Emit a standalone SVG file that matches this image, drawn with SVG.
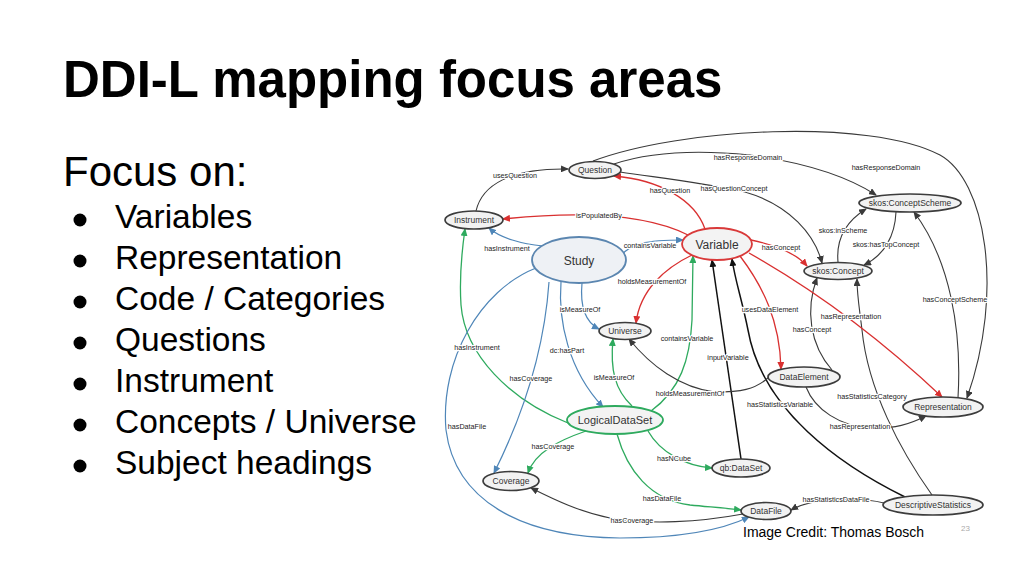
<svg xmlns="http://www.w3.org/2000/svg" width="1024" height="576" viewBox="0 0 1024 576">
<style>
.title{font-family:"Liberation Sans",Arial,sans-serif;font-weight:bold;font-size:51px;fill:#000}
.focus{font-family:"Liberation Sans",Arial,sans-serif;font-size:42px;fill:#000}
.item{font-family:"Liberation Sans",Arial,sans-serif;font-size:33.5px;fill:#000}
.credit{font-family:"Liberation Sans",Arial,sans-serif;font-size:14px;fill:#000}
.pg{font-family:"Liberation Sans",Arial,sans-serif;font-size:8px;fill:#aaa}
.e{fill:none}
.dk{stroke:#3a3a3a;stroke-width:1.1}
.bk{stroke:#111;stroke-width:1.5}
.rd{stroke:#d93030;stroke-width:1.3}
.gr{stroke:#2eaa5e;stroke-width:1.3}
.bl{stroke:#4f86b8;stroke-width:1.2}
.el{font-family:"Liberation Sans",Arial,sans-serif;font-size:7.2px;fill:#222;text-anchor:middle;stroke:#fff;stroke-width:2.4;paint-order:stroke;stroke-linejoin:round}
.n{fill:#f2f2f2;stroke:#3c3c3c;stroke-width:1.7}
.nl{font-family:"Liberation Sans",Arial,sans-serif;font-size:8.5px;fill:#333;text-anchor:middle}
</style>
<defs>
<marker id="a-dk" markerUnits="userSpaceOnUse" markerWidth="8" markerHeight="7" refX="7" refY="3.5" orient="auto"><path d="M0,0 L8,3.5 L0,7 z" fill="#3a3a3a"/></marker>
<marker id="a-bk" markerUnits="userSpaceOnUse" markerWidth="8" markerHeight="7" refX="7" refY="3.5" orient="auto"><path d="M0,0 L8,3.5 L0,7 z" fill="#111"/></marker>
<marker id="a-rd" markerUnits="userSpaceOnUse" markerWidth="8" markerHeight="7" refX="7" refY="3.5" orient="auto"><path d="M0,0 L8,3.5 L0,7 z" fill="#d93030"/></marker>
<marker id="a-gr" markerUnits="userSpaceOnUse" markerWidth="8" markerHeight="7" refX="7" refY="3.5" orient="auto"><path d="M0,0 L8,3.5 L0,7 z" fill="#2eaa5e"/></marker>
<marker id="a-bl" markerUnits="userSpaceOnUse" markerWidth="8" markerHeight="7" refX="7" refY="3.5" orient="auto"><path d="M0,0 L8,3.5 L0,7 z" fill="#4f86b8"/></marker>
</defs>
<rect width="1024" height="576" fill="#fff"/>
<g id="slide-text">
<text class="title" x="63" y="97">DDI-L mapping focus areas</text>
<text class="focus" x="63" y="186">Focus on:</text>
<g fill="#000">
<circle cx="80" cy="220" r="6.5"/><circle cx="80" cy="261" r="6.5"/><circle cx="80" cy="302" r="6.5"/><circle cx="80" cy="343" r="6.5"/><circle cx="80" cy="384" r="6.5"/><circle cx="80" cy="425" r="6.5"/><circle cx="80" cy="466" r="6.5"/>
</g>
<text class="item" x="115" y="228">Variables</text>
<text class="item" x="115" y="269">Representation</text>
<text class="item" x="115" y="310">Code / Categories</text>
<text class="item" x="115" y="351">Questions</text>
<text class="item" x="115" y="392">Instrument</text>
<text class="item" x="115" y="433">Concepts / Universe</text>
<text class="item" x="115" y="474">Subject headings</text>
<text class="credit" x="743" y="537">Image Credit: Thomas Bosch</text>
<text class="pg" x="961" y="531">23</text>
</g>
<g id="connectors">
<path class="e dk" marker-end="url(#a-dk)" d="M476,211 C482,185 510,168 568,169"/>
<path class="e dk" marker-end="url(#a-dk)" d="M593,161 C680,128 870,118 940,155 C985,180 1005,290 967,398"/>
<path class="e dk" marker-end="url(#a-dk)" d="M614,164 C650,152 700,150 750,155 C800,162 845,175 876,195"/>
<path class="e dk" marker-end="url(#a-dk)" d="M620,172 C660,178 700,182 745,192 C790,205 815,235 822,263"/>
<path class="e dk" marker-end="url(#a-dk)" d="M838,262 C836,240 845,222 866,209"/>
<path class="e dk" marker-end="url(#a-dk)" d="M896,212 C895,235 885,255 864,265"/>
<path class="e dk" marker-end="url(#a-dk)" d="M958,398 C962,330 950,260 914,212"/>
<path class="e dk" marker-end="url(#a-dk)" d="M832,370 C810,345 805,310 817,278"/>
<path class="e dk" marker-end="url(#a-dk)" d="M932,495 C900,450 868,390 862,330 C859,305 857,295 857,279"/>
<path class="e dk" marker-end="url(#a-dk)" d="M806,387 C815,410 840,426 870,428 C895,429 910,424 926,416"/>
<path class="e bk" marker-end="url(#a-bk)" d="M905,497 C840,465 762,410 748,330 C742,300 735,280 732,259"/>
<path class="e bk" marker-end="url(#a-bk)" d="M741,459 L712,260"/>
<path class="e rd" marker-end="url(#a-rd)" d="M749,253 Q850,310 942,397"/>
<path class="e rd" marker-end="url(#a-rd)" d="M751,240 C775,245 795,252 807,266"/>
<path class="e rd" marker-end="url(#a-rd)" d="M705,229 C695,200 660,180 614,176"/>
<path class="e rd" marker-end="url(#a-rd)" d="M688,235 C650,216 590,210 503,219"/>
<path class="e rd" marker-end="url(#a-rd)" d="M692,255 C665,268 640,290 636,323"/>
<path class="e rd" marker-end="url(#a-rd)" d="M740,256 C762,285 780,320 781,369"/>
<path class="e gr" marker-end="url(#a-gr)" d="M651,411 C680,390 690,360 692,320 L693,256"/>
<path class="e gr" marker-end="url(#a-gr)" d="M632,406 C615,390 610,370 613,339"/>
<path class="e gr" marker-end="url(#a-gr)" d="M568,423 C510,400 465,355 461,305 C459,275 462,250 465,229"/>
<path class="e gr" marker-end="url(#a-gr)" d="M586,431 C560,440 535,452 528,473"/>
<path class="e gr" marker-end="url(#a-gr)" d="M648,431 C660,452 685,466 712,468"/>
<path class="e gr" marker-end="url(#a-gr)" d="M617,434 C627,470 650,500 690,505 C710,507 725,508 741,510"/>
<path class="e bl" marker-end="url(#a-bl)" d="M543,246 C522,244 500,238 489,228"/>
<path class="e bl" marker-end="url(#a-bl)" d="M622,255 C630,244 645,240 683,240"/>
<path class="e bl" marker-end="url(#a-bl)" d="M582,283 C580,305 585,322 599,329"/>
<path class="e bl" marker-end="url(#a-bl)" d="M561,282 C558,320 568,370 603,407"/>
<path class="e bl" marker-end="url(#a-bl)" d="M549,282 C545,340 528,405 494,473"/>
<path class="e bl" marker-end="url(#a-bl)" d="M536,268 C480,290 440,360 446,430 C455,500 520,537 620,538 C680,538 722,530 749,517"/>
<path class="e dk" marker-end="url(#a-dk)" d="M743,514 C700,522 650,525 610,518 C580,512 555,500 531,488"/>
<path class="e dk" marker-end="url(#a-dk)" d="M884,503 C865,498 815,496 791,510"/>
<path class="e dk" marker-end="url(#a-dk)" d="M769,377 C755,390 740,392 715,392 C680,388 650,365 629,339"/>
<text class="el" x="515" y="177.5">usesQuestion</text>
<text class="el" x="748" y="159.5">hasResponseDomain</text>
<text class="el" x="886" y="169.5">hasResponseDomain</text>
<text class="el" x="670" y="192.5">hasQuestion</text>
<text class="el" x="734" y="190.5">hasQuestionConcept</text>
<text class="el" x="599" y="217.5">isPopulatedBy</text>
<text class="el" x="843" y="232.5">skos:inScheme</text>
<text class="el" x="886" y="246.5">skos:hasTopConcept</text>
<text class="el" x="507" y="250.5">hasInstrument</text>
<text class="el" x="650" y="247.5">containsVariable</text>
<text class="el" x="781" y="249.5">hasConcept</text>
<text class="el" x="652" y="283.5">holdsMeasurementOf</text>
<text class="el" x="580" y="311.5">isMeasureOf</text>
<text class="el" x="770" y="311.5">usesDataElement</text>
<text class="el" x="851" y="318.5">hasRepresentation</text>
<text class="el" x="955" y="301.5">hasConceptScheme</text>
<text class="el" x="812" y="331.5">hasConcept</text>
<text class="el" x="687" y="340.5">containsVariable</text>
<text class="el" x="477" y="349.5">hasInstrument</text>
<text class="el" x="567" y="352.5">dc:hasPart</text>
<text class="el" x="728" y="359.5">inputVariable</text>
<text class="el" x="614" y="379.5">isMeasureOf</text>
<text class="el" x="531" y="380.5">hasCoverage</text>
<text class="el" x="690" y="395.5">holdsMeasurementOf</text>
<text class="el" x="872" y="398.5">hasStatisticsCategory</text>
<text class="el" x="780" y="406.5">hasStatisticsVariable</text>
<text class="el" x="467" y="428.5">hasDataFile</text>
<text class="el" x="860" y="428.5">hasRepresentation</text>
<text class="el" x="553" y="448.5">hasCoverage</text>
<text class="el" x="674" y="460.5">hasNCube</text>
<text class="el" x="662" y="500.5">hasDataFile</text>
<text class="el" x="836" y="501.5">hasStatisticsDataFile</text>
<text class="el" x="632" y="522.5">hasCoverage</text>
</g>
<g id="node-question"><ellipse class="n" cx="595" cy="170" rx="26" ry="8.5"/><text class="nl" x="595" y="173">Question</text></g>
<g id="node-instrument"><ellipse class="n" cx="474" cy="220" rx="29" ry="9"/><text class="nl" x="474" y="223">Instrument</text></g>
<g id="node-study"><ellipse cx="579" cy="260" rx="47" ry="23" fill="#eef1f5" stroke="#5b86b0" stroke-width="1.8"/><text class="nl" x="579" y="264.5" style="font-size:12px">Study</text></g>
<g id="node-variable"><ellipse cx="717" cy="244" rx="35" ry="16" fill="#f3f3f3" stroke="#d93a3a" stroke-width="1.8"/><text class="nl" x="717" y="248.5" style="font-size:12px">Variable</text></g>
<g id="node-universe"><ellipse class="n" cx="625" cy="331" rx="26" ry="8.5"/><text class="nl" x="625" y="334">Universe</text></g>
<g id="node-logicaldataset"><ellipse cx="615" cy="420" rx="48" ry="14" fill="#f3f3f3" stroke="#2eaa5e" stroke-width="1.8"/><text class="nl" x="615" y="424" style="font-size:11px">LogicalDataSet</text></g>
<g id="node-coverage"><ellipse class="n" cx="511" cy="481" rx="28" ry="9.5"/><text class="nl" x="511" y="484">Coverage</text></g>
<g id="node-qbdataset"><ellipse class="n" cx="741" cy="468" rx="29" ry="9"/><text class="nl" x="741" y="471">qb:DataSet</text></g>
<g id="node-datafile"><ellipse class="n" cx="766" cy="511" rx="25" ry="8.5"/><text class="nl" x="766" y="514">DataFile</text></g>
<g id="node-descriptivestatistics"><ellipse class="n" cx="933" cy="505" rx="50" ry="10"/><text class="nl" x="933" y="508">DescriptiveStatistics</text></g>
<g id="node-dataelement"><ellipse class="n" cx="804" cy="377" rx="36" ry="10"/><text class="nl" x="804" y="380">DataElement</text></g>
<g id="node-representation"><ellipse class="n" cx="943" cy="407" rx="40" ry="10"/><text class="nl" x="943" y="410">Representation</text></g>
<g id="node-skosconcept"><ellipse class="n" cx="838" cy="271" rx="34" ry="8.5"/><text class="nl" x="838" y="274">skos:Concept</text></g>
<g id="node-skosconceptscheme"><ellipse class="n" cx="910" cy="203" rx="51" ry="9"/><text class="nl" x="910" y="206">skos:ConceptScheme</text></g>
</svg>
